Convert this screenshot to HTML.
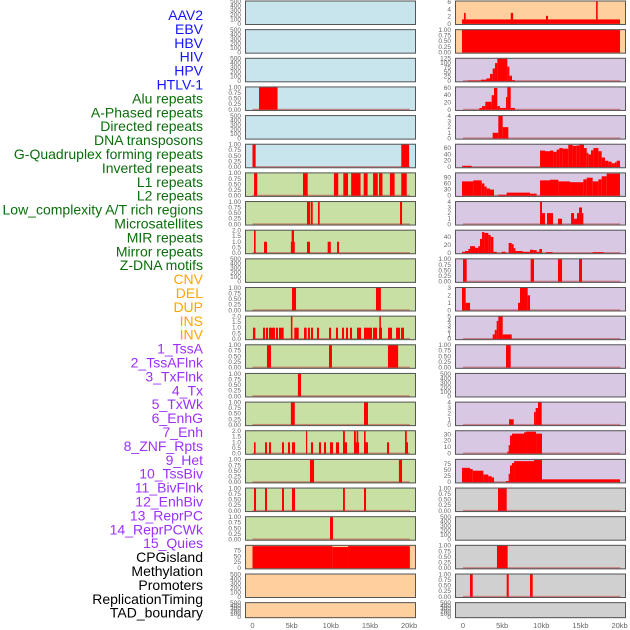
<!DOCTYPE html>
<html><head><meta charset="utf-8"><style>
html,body{margin:0;padding:0;background:#fff;}
svg{display:block;font-family:"Liberation Sans",sans-serif;}
</style></head><body>
<svg id="chart" width="630" height="630" viewBox="0 0 630 630" xmlns="http://www.w3.org/2000/svg"></svg>
<script>
const trackLabels = ["AAV2","EBV","HBV","HIV","HPV","HTLV-1","Alu repeats","A-Phased repeats","Directed repeats","DNA transposons","G-Quadruplex forming repeats","Inverted repeats","L1 repeats","L2 repeats","Low_complexity A/T rich regions","Microsatellites","MIR repeats","Mirror repeats","Z-DNA motifs","CNV","DEL","DUP","INS","INV","1_TssA","2_TssAFlnk","3_TxFlnk","4_Tx","5_TxWk","6_EnhG","7_Enh","8_ZNF_Rpts","9_Het","10_TssBiv","11_BivFlnk","12_EnhBiv","13_ReprPC","14_ReprPCWk","15_Quies","CPGisland","Methylation","Promoters","ReplicationTiming","TAD_boundary"];
const labelColors = ["#1414ff","#1414ff","#1414ff","#1414ff","#1414ff","#1414ff","#0a6e0a","#0a6e0a","#0a6e0a","#0a6e0a","#0a6e0a","#0a6e0a","#0a6e0a","#0a6e0a","#0a6e0a","#0a6e0a","#0a6e0a","#0a6e0a","#0a6e0a","#ffa500","#ffa500","#ffa500","#ffa500","#ffa500","#9b30ff","#9b30ff","#9b30ff","#9b30ff","#9b30ff","#9b30ff","#9b30ff","#9b30ff","#9b30ff","#9b30ff","#9b30ff","#9b30ff","#9b30ff","#9b30ff","#9b30ff","#000","#000","#000","#000","#000"];
const leftBg = ["#c8e4ec","#c8e4ec","#c8e4ec","#c8e4ec","#c8e4ec","#c8e4ec","#c8e0a4","#c8e0a4","#c8e0a4","#c8e0a4","#c8e0a4","#c8e0a4","#c8e0a4","#c8e0a4","#c8e0a4","#c8e0a4","#c8e0a4","#c8e0a4","#c8e0a4","#ffd09e","#ffd09e","#ffd09e"];
const rightBg = ["#ffd09e","#ffd09e","#d8c8e4","#d8c8e4","#d8c8e4","#d8c8e4","#d8c8e4","#d8c8e4","#d8c8e4","#d8c8e4","#d8c8e4","#d8c8e4","#d8c8e4","#d8c8e4","#d8c8e4","#d8c8e4","#d8c8e4","#d0d0d0","#d0d0d0","#d0d0d0","#d0d0d0","#d0d0d0"];
const leftYmax = [500,500,500,1,500,1,1,1,2,500,1,2,1,1,1,2,1,1,1,95,500,500];
const rightYmax = [6.2,1,125,62,4,71,110,4,56,1,3,5,1,500,4,35,94,1,500,1,1,500];
const leftTicks = [[0,100,200,300,400,500],[0,100,200,300,400,500],[0,100,200,300,400,500],[0,0.25,0.5,0.75,1],[0,100,200,300,400,500],[0,0.25,0.5,0.75,1],[0,0.25,0.5,0.75,1],[0,0.25,0.5,0.75,1],[0,0.5,1,1.5,2],[0,100,200,300,400,500],[0,0.25,0.5,0.75,1],[0,0.5,1,1.5,2],[0,0.25,0.5,0.75,1],[0,0.25,0.5,0.75,1],[0,0.25,0.5,0.75,1],[0,0.5,1,1.5,2],[0,0.25,0.5,0.75,1],[0,0.25,0.5,0.75,1],[0,0.25,0.5,0.75,1],[0,25,50,75],[0,100,200,300,400,500],[0,100,200,300,400,500]];
const rightTicks = [[0,2,4,6],[0,0.25,0.5,0.75,1],[0,25,50,75,100,125],[0,20,40,60],[0,1,2,3,4],[0,20,40,60],[0,30,60,90],[0,1,2,3,4],[0,20,40],[0,0.25,0.5,0.75,1],[0,1,2,3],[0,1,2,3,4,5],[0,0.25,0.5,0.75,1],[0,100,200,300,400,500],[0,1,2,3,4],[0,10,20,30],[0,25,50,75],[0,0.25,0.5,0.75,1],[0,100,200,300,400,500],[0,0.25,0.5,0.75,1],[0,0.25,0.5,0.75,1],[0,100,200,300,400,500]];
// bars: [startKb, endKb, value]
const leftBars = [
 [],[],[],
 [[0.83,3.2,1]],
 [],
 [[0,0.4,1],[19.0,20.0,1]],
 [[0.2,0.6,1],[6.45,7.05,1],[10.4,10.95,1],[11.6,12.2,1],[12.6,13.8,1],[14.2,14.7,1],[15.4,16.0,1],[16.15,16.6,1],[17.55,18.15,1],[19.0,19.7,1]],
 [[6.96,7.34,1],[7.43,7.69,1],[8.36,8.58,1],[18.84,19.1,1]],
 [[0.19,0.4,2],[1.47,1.85,1],[4.9,5.4,1],[5.0,5.3,2],[6.96,7.34,1],[9.6,10.0,1],[10.8,11.05,1]],
 [],
 [[5.04,5.56,1],[15.77,16.4,1]],
 [[0.06,0.36,1],[1.34,1.6,1],[1.72,1.98,1],[2.1,2.87,1],[3.0,3.26,1],[3.38,3.98,1],[4.9,5.1,2],[5.34,5.9,1],[6.58,6.92,1],[7.09,7.34,1],[7.47,7.73,1],[8.24,8.49,1],[9.77,10.03,1],[10.66,10.92,1],[11.43,11.69,1],[11.94,12.2,1],[12.45,12.71,1],[13.35,13.86,1],[14.24,15.26,1],[15.39,15.9,1],[16.16,16.54,1],[16.2,16.4,2],[17.31,17.82,1],[18.33,18.84,1],[18.97,19.35,1]],
 [[1.85,2.36,1],[9.77,10.15,1],[17.3,18.6,1]],
 [[5.8,6.2,1]],
 [[4.9,5.4,1],[14.24,14.75,1]],
 [[0.19,0.4,1],[1.6,1.85,1],[2.1,2.36,1],[3.77,4.02,1],[4.53,4.79,1],[5.04,5.43,1],[6.83,6.96,2],[7.47,7.73,1],[8.49,8.75,1],[9.13,9.39,1],[9.9,10.28,1],[10.66,11.05,1],[11.56,12.07,1],[11.56,11.8,2],[12.96,13.6,1],[12.96,13.2,2],[13.3,13.5,2],[14.24,14.75,1],[14.24,14.45,2],[17.18,17.44,1],[19.48,19.86,1],[19.48,19.7,2]],
 [[7.34,7.86,1],[18.7,19.1,1]],
 [[0.19,0.45,1],[1.6,1.85,1],[3.77,4.02,1],[5.04,5.43,1],[11.56,11.8,1],[14.24,14.5,1]],
 [[9.9,10.28,1]],
 [[0,10.2,93],[10.2,12.2,89],[12.2,20.1,93]],
 [],[]
];
const rightBars = [
 [[-0.13,20.05,1.2],[0.13,0.34,3],[6.1,6.4,3],[10.6,10.86,2.2],[17.0,17.2,6.2]],
 [[-0.13,20.05,1]],
 [[0.68,2.3,3],[2.3,3.0,8],[3.0,3.45,15],[3.45,3.79,40],[3.79,4.09,70],[4.09,4.38,100],[4.38,5.66,125],[5.66,5.92,80],[5.92,6.26,30],[6.26,6.64,5]],
 [[2.09,2.43,5],[2.43,2.85,10],[2.85,3.66,22],[3.66,3.96,40],[3.96,4.38,60],[4.38,4.72,10],[4.72,5.49,5],[5.49,5.66,35],[5.66,6.09,62],[6.09,6.64,5]],
 [[3.79,4.51,1],[4.51,5.07,4],[5.07,5.79,2]],
 [[-0.13,1.1,4],[9.84,10.47,52],[10.47,11.11,50],[11.11,11.54,52],[11.54,11.96,48],[11.96,12.3,55],[12.3,12.73,60],[12.73,13.45,58],[13.45,14.0,70],[14.0,14.52,67],[14.52,14.86,68],[14.86,15.45,71],[15.45,15.8,60],[15.8,16.0,45],[16.0,16.35,40],[16.35,16.65,53],[16.65,17.29,60],[17.29,17.71,50],[17.71,18.14,30],[18.14,18.56,20],[18.56,18.99,17],[18.99,19.41,12],[19.41,19.63,15],[19.63,20.05,20]],
 [[-0.13,1.32,70],[1.32,2.39,75],[2.39,2.73,60],[2.73,3.02,45],[3.02,3.45,35],[3.45,3.96,30],[4.51,5.58,5],[5.58,8.56,15],[8.56,9.41,10],[9.84,11.11,75],[11.11,12.18,78],[12.18,13.67,70],[13.67,15.37,66],[15.37,15.8,80],[15.8,16.56,88],[16.56,17.29,70],[17.29,17.71,80],[17.71,18.35,95],[18.35,20.05,108]],
 [[9.84,10.09,4],[10.09,10.47,2],[10.73,11.5,2],[12.13,12.65,1],[13.8,14.18,2],[14.18,14.56,1],[14.56,14.82,2],[14.82,15.2,3],[15.2,15.37,2]],
 [[-0.13,0.26,3],[0.26,0.68,5],[0.68,0.9,10],[0.9,1.53,17],[1.53,1.96,13],[1.96,2.17,17],[2.17,2.43,35],[2.43,2.73,52],[2.73,3.24,50],[3.24,3.54,45],[3.54,3.88,40],[3.88,4.3,3],[4.94,5.45,3],[5.83,6.22,25],[6.22,6.47,22],[6.47,6.69,12],[6.69,7.62,5],[7.62,8.56,3],[8.56,8.98,8],[8.98,9.41,7],[9.41,9.75,3],[9.75,10.09,10],[10.6,11.45,2],[16.56,17.97,2]],
 [[0,0.47,1],[8.64,9.07,1],[12.13,12.65,1],[14.82,15.2,1]],
 [[-0.13,0.34,3],[0.34,0.9,1],[7.03,7.28,1],[7.28,8.26,3],[8.26,8.56,2]],
 [[3.79,4.05,1],[4.05,4.3,2],[4.3,4.51,4],[4.51,5.07,5],[5.07,6.22,1]],
 [[5.49,6.09,1]],
 [],
 [[5.88,6.47,1],[9.07,9.28,2.3],[9.28,9.58,3],[9.58,10.05,4]],
 [[5.66,5.83,3],[5.83,6.0,13],[6.0,6.26,28],[6.26,7.79,31],[7.79,8.05,33],[8.05,9.33,34],[9.33,10.09,31]],
 [[-0.13,0.9,60],[0.9,1.24,55],[1.24,2.6,48],[2.6,3.24,32],[3.24,3.66,25],[3.66,3.96,20],[5.49,5.83,5],[5.83,6.0,35],[6.0,6.26,70],[6.26,6.52,80],[6.52,9.07,88],[9.07,10.09,93],[10.09,20.05,12]],
 [[4.47,5.58,1]],
 [],
 [[4.34,5.7,1]],
 [[0.89,1.24,1],[5.58,5.84,1],[8.56,8.9,1]],
 []
];
const xTickValues = [0,5,10,15,20];
const xTickLabels = ["0","5kb","10kb","15kb","20kb"];

const NS = "http://www.w3.org/2000/svg";
const svg = document.getElementById("chart");
function mk(tag, attrs, parent){
  const e = document.createElementNS(NS, tag);
  for (const k in attrs) e.setAttribute(k, attrs[k]);
  (parent||svg).appendChild(e);
  return e;
}
const ROW_STEP = 28.65, ROW_H = 24.5;
const cols = [{left:245,right:416,x0:252.5},{left:455,right:626,x0:463}];
const PXKB = 7.83;
function xScale(c, kb){ return cols[c].x0 + kb*PXKB; }
function rowTop(i){ return i*ROW_STEP + 0.5; }
function rowH(i){ return i===21 ? 16 : ROW_H; }
function yScale(i, v, ymax){ const b = rowTop(i)+rowH(i)-1.2; return b - v/ymax*(rowH(i)-2); }
function fmt(t, ymax){
  if (ymax===1) return t.toFixed(2);
  if (ymax===2) return t.toFixed(1);
  return String(t);
}

trackLabels.forEach((t,k)=>{
  const el = mk("text",{x:203,y:15+k*13.9+5,"text-anchor":"end","font-size":"14",fill:labelColors[k]});
  el.textContent = t;
  
  
});

for (let c=0;c<2;c++){
  const bars = c===0?leftBars:rightBars, ymaxs = c===0?leftYmax:rightYmax, ticks = c===0?leftTicks:rightTicks, bgs = c===0?leftBg:rightBg;
  for (let i=0;i<22;i++){
    const g = mk("g",{});
    
    
    const top = rowTop(i), h = rowH(i), L = cols[c].left, W = cols[c].right-cols[c].left;
    mk("rect",{x:L,y:top,width:W,height:h,fill:bgs[i]},g);
    const ymax = ymaxs[i];
    if (bars[i].length){
      const base = mk("rect",{x:xScale(c,0),y:top+h-2.2,width:xScale(c,20.1)-xScale(c,0),height:1.4,fill:"#c04040","fill-opacity":"0.55"},g);
      
      
    }
    bars[i].forEach(b=>{
      const x1 = xScale(c,b[0]), x2 = xScale(c,b[1]);
      const y = yScale(i,b[2],ymax), yb = yScale(i,0,ymax);
      const r = mk("rect",{x:x1,y:Math.max(y,top+0.5),width:Math.max(x2-x1,1.2),height:yb-Math.max(y,top+0.5),fill:"#ff0000"},g);
      
      
    });
    mk("rect",{x:L+0.5,y:top+0.5,width:W-1,height:h-1,fill:"none",stroke:"#555","stroke-width":"1"},g);
    ticks[i].forEach(t=>{
      const tx = mk("text",{x:L-4,y:yScale(i,t,ymax)+2,"text-anchor":"end","font-size":"6.5",fill:"#666"},g);
      tx.textContent = fmt(t,ymax);
      
      
    });
  }
  xTickValues.forEach((v,k)=>{
    const tx = mk("text",{x:xScale(c,v),y:628,"text-anchor":"middle","font-size":"7.5",fill:"#666"});
    tx.textContent = xTickLabels[k];
    
    
  });
}
</script>
</body></html>
